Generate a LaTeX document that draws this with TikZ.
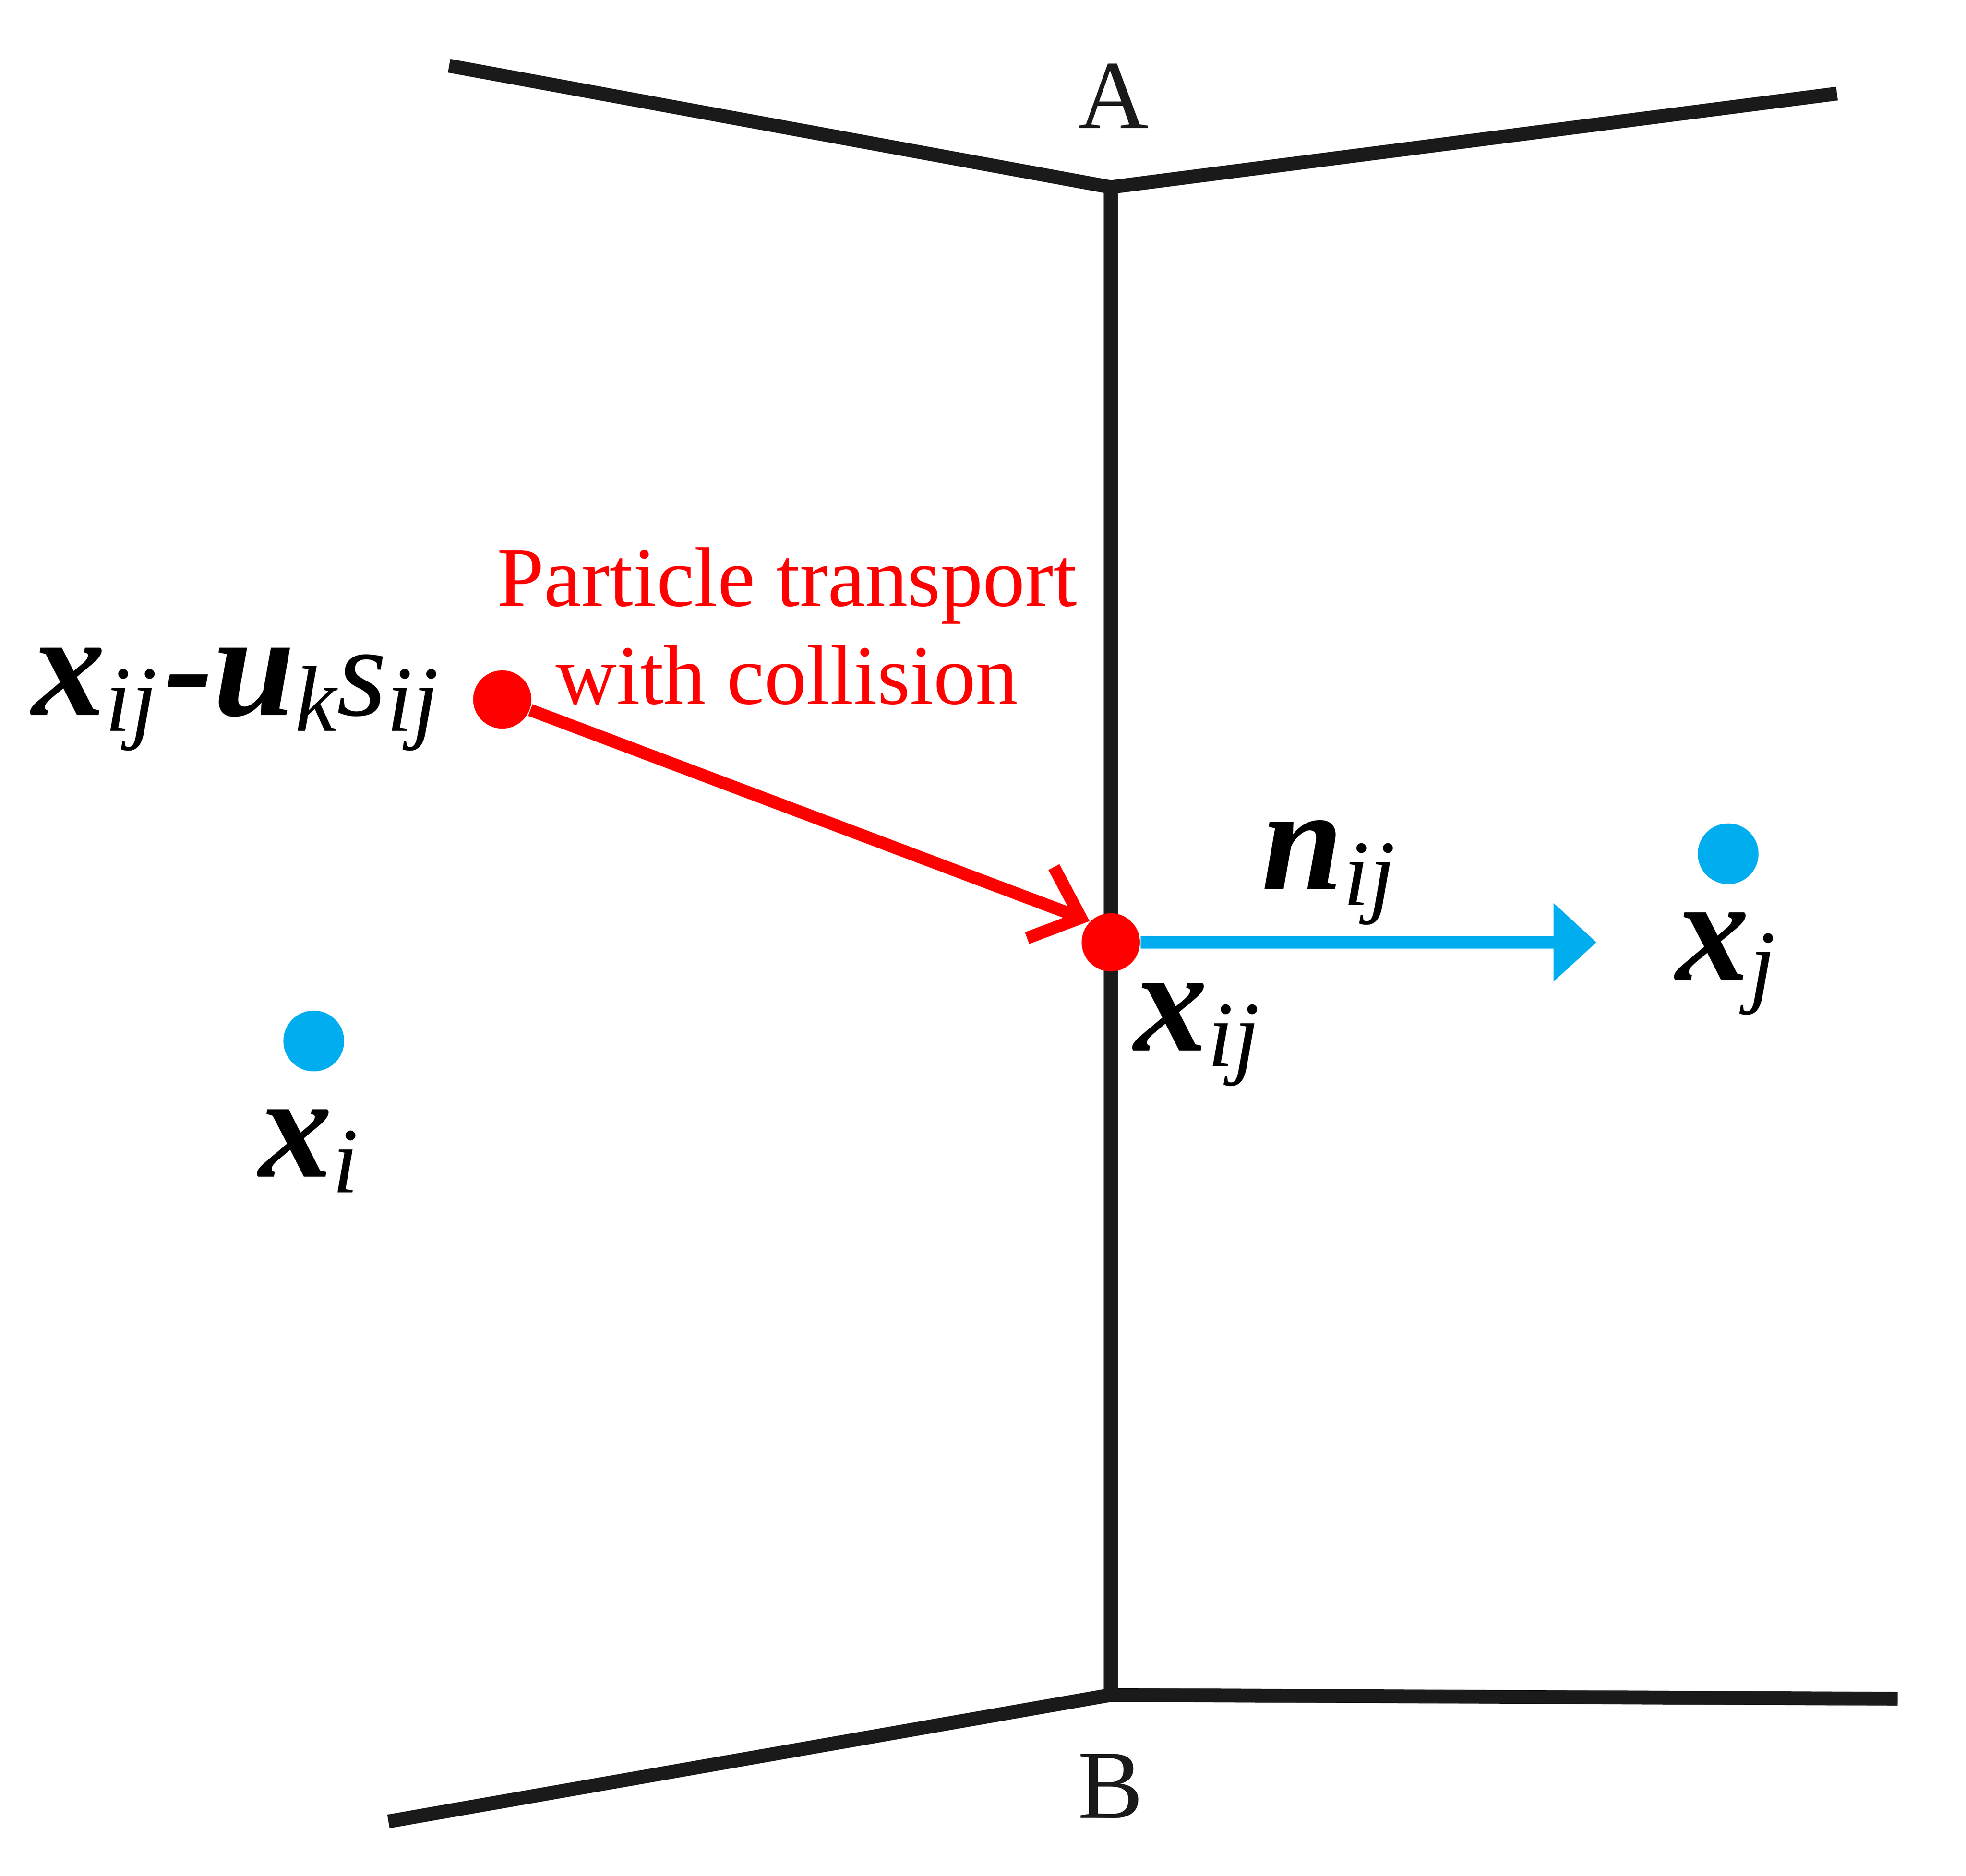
\documentclass[tikz,border=0pt]{standalone}
\usepackage{fontspec}
\setmainfont{Liberation Serif}
\usetikzlibrary{arrows.meta}
\definecolor{cblue}{HTML}{00AEEF}
\definecolor{dk}{HTML}{1A1A1A}
\newcommand{\bx}[1]{{\fontsize{33}{33}\selectfont\bfseries\itshape #1}}
\newcommand{\sbs}[1]{\raisebox{-0.35em}{\fontsize{21}{21}\selectfont\itshape #1}}
\begin{document}
\begin{tikzpicture}[x=0.01cm,y=-0.01cm,
  wall/.style={draw=dk,line width=3.1pt},
  lbl/.style={font=\fontsize{22}{22}\selectfont,text=dk},
  bdot/.style={circle,fill=cblue,minimum size=0.48cm,inner sep=0pt},
  rdot/.style={circle,fill=red,minimum size=0.46cm,inner sep=0pt}]
\useasboundingbox (0,0) rectangle (1554,1483);
\coordinate (tl) at (355,52); \coordinate (tm) at (878,148); \coordinate (tr) at (1452,74);
\coordinate (bm) at (878,1340); \coordinate (br) at (1500,1343); \coordinate (bl) at (307,1440);
\draw[wall] (tl) -- (tm) -- (tr);
\draw[wall] (tm) -- (bm);
\draw[wall] (bl) -- (bm) -- (br);
\node[lbl] (A) at (880,76) {A};
\node[lbl] (B) at (878,1412) {B};
\node[rdot] (p0) at (397,553) {};
\node[rdot] (p1) at (878,745) {};
\coordinate (bend) at (1262,745);
\draw[draw=cblue,line width=2.9pt,-{Triangle[length=0.34cm,width=0.6cm]}] (p1.east) -- (bend);
\draw[red,line width=2.8pt,-{Straight Barb[length=0.34cm,width=0.6cm,line width=2.8pt]}] (p0) -- (p1.north west);
\node[bdot] (xi) at (248,823) {};
\node[bdot] (xj) at (1366,675) {};
\node[text=red,align=center,font=\fontsize{19}{22}\selectfont] (pt) at (622,495) {Particle transport\\with collision};
\node (l0) at (186,553) {\bx{x}\sbs{ij}\,\bx{-u}\sbs{k}{\fontsize{29}{29}\selectfont\itshape s}\sbs{ij}};
\node (l1) at (946,818) {\bx{x}\sbs{ij}};
\node (l2) at (1050,690) {\bx{n}\sbs{ij}};
\node (l3) at (1364,762) {\bx{x}\sbs{j}};
\node (l4) at (244,910) {\bx{x}\sbs{i}};
\end{tikzpicture}
\end{document}
